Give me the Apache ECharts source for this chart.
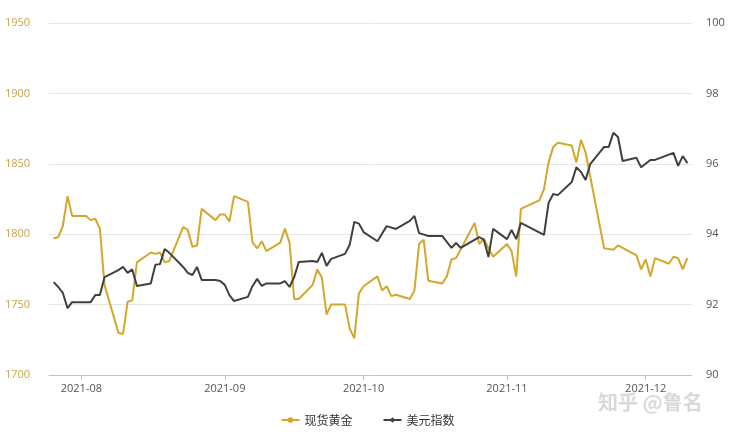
<!DOCTYPE html>
<html><head><meta charset="utf-8">
<script src="https://cdn.jsdelivr.net/npm/echarts@6/dist/echarts.min.js"></script>
<style>html,body{margin:0;padding:0;background:#fff}#c{width:735px;height:435px}</style>
</head><body><div id="c"></div>
<script>
const seriesNames = ['现货黄金', '美元指数'];
const monthTicks = ['2021-08-01','2021-09-01','2021-10-01','2021-11-01','2021-12-01'];
const goldDates = ['2021-07-26','2021-07-27','2021-07-28','2021-07-29','2021-07-30','2021-08-02','2021-08-03','2021-08-04','2021-08-05','2021-08-06','2021-08-09','2021-08-10','2021-08-11','2021-08-12','2021-08-13','2021-08-16','2021-08-17','2021-08-18','2021-08-19','2021-08-20','2021-08-23','2021-08-24','2021-08-25','2021-08-26','2021-08-27','2021-08-30','2021-08-31','2021-09-01','2021-09-02','2021-09-03','2021-09-06','2021-09-07','2021-09-08','2021-09-09','2021-09-10','2021-09-13','2021-09-14','2021-09-15','2021-09-16','2021-09-17','2021-09-20','2021-09-21','2021-09-22','2021-09-23','2021-09-24','2021-09-27','2021-09-28','2021-09-29','2021-09-30','2021-10-01','2021-10-04','2021-10-05','2021-10-06','2021-10-07','2021-10-08','2021-10-11','2021-10-12','2021-10-13','2021-10-14','2021-10-15','2021-10-18','2021-10-19','2021-10-20','2021-10-21','2021-10-25','2021-10-26','2021-10-27','2021-10-28','2021-10-29','2021-11-01','2021-11-02','2021-11-03','2021-11-04','2021-11-08','2021-11-09','2021-11-10','2021-11-11','2021-11-12','2021-11-15','2021-11-16','2021-11-17','2021-11-18','2021-11-22','2021-11-24','2021-11-25','2021-11-29','2021-11-30','2021-12-01','2021-12-02','2021-12-03','2021-12-06','2021-12-07','2021-12-08','2021-12-09','2021-12-10'];
const goldValues = [1797,1798,1806,1827,1813,1813,1810,1811,1804,1764,1730,1729,1752,1753,1780,1787,1786,1787,1780,1781,1805,1803,1791,1792,1818,1810,1814,1814,1809,1827,1823,1794,1790,1795,1788,1794,1804,1794,1754,1754,1764,1775,1769,1743,1750,1750,1733,1726,1758,1763,1770,1760,1763,1756,1757,1754,1760,1793,1796,1767,1765,1770,1782,1783,1808,1793,1797,1790,1784,1793,1788,1770,1818,1824,1832,1851,1862,1865,1863,1851,1867,1858,1790,1789,1792,1785,1775,1782,1770,1783,1779,1784,1783,1775,1783];
const dxyDates = ['2021-07-26','2021-07-27','2021-07-28','2021-07-29','2021-07-30','2021-08-02','2021-08-03','2021-08-04','2021-08-05','2021-08-06','2021-08-09','2021-08-10','2021-08-11','2021-08-12','2021-08-13','2021-08-16','2021-08-17','2021-08-18','2021-08-19','2021-08-20','2021-08-23','2021-08-24','2021-08-25','2021-08-26','2021-08-27','2021-08-30','2021-08-31','2021-09-01','2021-09-02','2021-09-03','2021-09-06','2021-09-07','2021-09-08','2021-09-09','2021-09-10','2021-09-13','2021-09-14','2021-09-15','2021-09-16','2021-09-17','2021-09-20','2021-09-21','2021-09-22','2021-09-23','2021-09-24','2021-09-27','2021-09-28','2021-09-29','2021-09-30','2021-10-01','2021-10-04','2021-10-06','2021-10-08','2021-10-11','2021-10-12','2021-10-13','2021-10-15','2021-10-18','2021-10-20','2021-10-21','2021-10-22','2021-10-26','2021-10-27','2021-10-28','2021-10-29','2021-11-01','2021-11-02','2021-11-03','2021-11-04','2021-11-09','2021-11-10','2021-11-11','2021-11-12','2021-11-15','2021-11-16','2021-11-17','2021-11-18','2021-11-19','2021-11-22','2021-11-23','2021-11-24','2021-11-25','2021-11-26','2021-11-29','2021-11-30','2021-12-02','2021-12-03','2021-12-07','2021-12-08','2021-12-09','2021-12-10'];
const dxyValues = [92.64,92.5,92.33,91.9,92.07,92.07,92.07,92.27,92.27,92.78,92.98,93.07,92.9,93.0,92.53,92.6,93.13,93.15,93.58,93.47,93.07,92.9,92.84,93.07,92.7,92.7,92.67,92.56,92.27,92.1,92.22,92.53,92.73,92.53,92.6,92.6,92.67,92.5,92.78,93.21,93.24,93.21,93.47,93.1,93.3,93.44,93.7,94.35,94.3,94.06,93.8,94.23,94.15,94.38,94.52,94.03,93.95,93.95,93.61,93.75,93.61,93.92,93.84,93.35,94.15,93.86,94.12,93.86,94.32,93.98,94.89,95.14,95.11,95.48,95.9,95.77,95.54,95.99,96.48,96.48,96.88,96.76,96.08,96.17,95.9,96.11,96.11,96.31,95.94,96.22,96.02];
const ts = d => Date.UTC(+d.slice(0,4), +d.slice(5,7)-1, +d.slice(8,10));
const gold = goldDates.map((d,i)=>[ts(d),goldValues[i]]);
const dxy = dxyDates.map((d,i)=>[ts(d),dxyValues[i]]);
const monthTs = monthTicks.map(ts);
const fmt = v => { const d = new Date(v); return d.getUTCFullYear() + '-' + String(d.getUTCMonth()+1).padStart(2,'0'); };
const chart = echarts.init(document.getElementById('c'));
chart.setOption({
  animation:false,
  textStyle:{fontFamily:'"Open Sans", sans-serif'},
  grid:{left:49,right:43,top:23,bottom:60},
  legend:{bottom:4,left:'center',itemGap:30,itemWidth:18,itemHeight:7,textStyle:{color:'#333',fontSize:12,fontFamily:'"Noto Sans CJK SC"'},data:seriesNames},
  graphic:[{type:'text',left:598,top:392,style:{text:'知乎 @鲁名',fill:'rgba(170,170,170,0.45)',font:'bold 20px "Noto Sans CJK SC"'}}],
  xAxis:{type:'value',min:ts('2021-07-25'),max:ts('2021-12-11'),
    axisLine:{lineStyle:{color:'#b8c4d8'}},
    axisTick:{show:true,customValues:monthTs,lineStyle:{color:'#b8c4d8'}},
    axisLabel:{customValues:monthTs,color:'#555',fontSize:11,formatter:fmt},
    splitLine:{show:false}},
  yAxis:[
    {type:'value',min:1700,max:1950,interval:50,axisLabel:{color:'#c9a24a',fontSize:11,margin:44,align:'left',formatter:v=>String(v)},
     splitLine:{lineStyle:{color:'#e6e6e6'}},axisLine:{show:false},axisTick:{show:false}},
    {type:'value',min:90,max:100,interval:2,position:'right',axisLabel:{color:'#555',fontSize:11,margin:14},
     splitLine:{show:false},axisLine:{show:false},axisTick:{show:false}}
  ],
  series:[
    {name:seriesNames[0],type:'line',data:gold,yAxisIndex:0,showSymbol:false,symbol:'circle',
     color:'#d4a72c',lineStyle:{width:2}},
    {name:seriesNames[1],type:'line',data:dxy,yAxisIndex:1,showSymbol:false,symbol:'diamond',
     color:'#404040',lineStyle:{width:2}}
  ]
});
</script></body></html>
